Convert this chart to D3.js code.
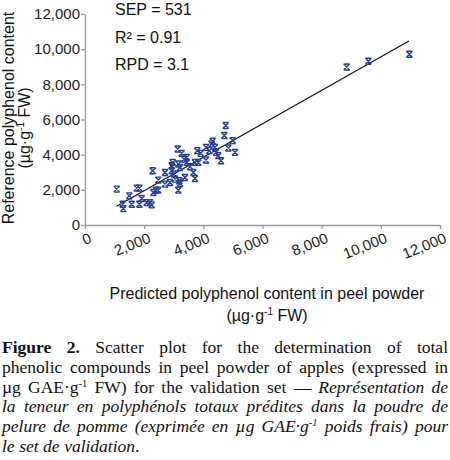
<!DOCTYPE html>
<html>
<head>
<meta charset="utf-8">
<script src="https://cdn.jsdelivr.net/npm/d3@7"></script>
<style>
  body { margin: 0; background: #fff; }
  svg { display: block; }
</style>
</head>
<body>
<div id="chart"></div>
<script>
// predicted (x) vs reference (y) polyphenol content, µg/g FW
var predicted = [1072, 1274, 1295, 1497, 1579, 1748, 1836, 1836, 1917, 2086,
  2197, 2255, 2288, 2309, 2400, 2478, 2478, 2704, 2704, 2873,
  2931, 2965, 2931, 3009, 3042, 3134, 3154, 3188, 3211, 3154,
  3269, 3211, 3347, 3380, 3438, 3438, 3549, 3661, 3718, 3718,
  3830, 3796, 3911, 4090, 4090, 4202, 4283, 4317, 4394, 4428,
  4506, 4597, 4709, 4756, 4844, 4993, 5071, 8846, 9578, 10964]
var reference = [2040, 1183, 931, 1657, 1183, 2097, 2097, 1183, 1503, 1274,
  1274, 1143, 3086, 1846, 1983, 1983, 2554, 2326, 2989, 2417,
  3086, 3560, 3371, 2897, 2611, 4326, 3469, 2514, 2360, 1983,
  4074, 3274, 3754, 2703, 3846, 3560, 3314, 2989, 2646, 3560,
  3560, 4229, 4074, 3697, 4417, 4229, 4611, 4760, 4417, 4131,
  3943, 3657, 5086, 5657, 4383, 4800, 4131, 8989, 9314, 9714]
// fitted line end points
var fitX = [1070, 10950]
var fitY = [1070, 10470]
var tickValues = [0, 2000, 4000, 6000, 8000, 10000, 12000]
var stats = ["SEP = 531", "R² = 0.91", "RPD = 3.1"]

const width = 450, height = 460
const svg = d3.select("#chart").append("svg")
  .attr("width", width).attr("height", height)

const x = d3.scaleLinear().domain([0, 12000]).range([85, 440])
const y = d3.scaleLinear().domain([0, 12000]).range([225, 14])

const axisColor = "#9a9a9a"
const sans = "'Liberation Sans', Arial, sans-serif"

// x axis
const gx = svg.append("g")
  .attr("transform", `translate(0,${y(0)})`)
  .call(d3.axisBottom(x).tickValues(tickValues).tickFormat(d3.format(",")).tickSize(4).tickSizeOuter(0))
gx.selectAll("text")
  .attr("x", 0).attr("y", 0).attr("dy", 0)
  .attr("text-anchor", "end")
  .attr("transform", "translate(7,17) rotate(-22)")

// y axis
const gy = svg.append("g")
  .attr("transform", `translate(${x(0)},0)`)
  .call(d3.axisLeft(y).tickValues(tickValues).tickFormat(d3.format(",")).tickSize(4).tickPadding(1).tickSizeOuter(0))

svg.selectAll(".domain, .tick line").attr("stroke", axisColor).attr("stroke-width", 1.3)
svg.selectAll(".tick text").attr("font-family", sans).attr("font-size", 15).attr("fill", "#222")

// regression line
svg.append("line")
  .attr("x1", x(fitX[0])).attr("y1", y(fitY[0]))
  .attr("x2", x(fitX[1])).attr("y2", y(fitY[1]))
  .attr("stroke", "#111").attr("stroke-width", 1.2)

// markers
const m = 3
const markerPath = `M${-m},${-m}L${m},${-m}M${-m},${m}L${m},${m}M${-m},${-m}L${m},${m}M${m},${-m}L${-m},${m}`
svg.append("g").selectAll("path")
  .data(predicted.map((p, i) => [p, reference[i]]))
  .join("path")
    .attr("d", markerPath)
    .attr("transform", d => `translate(${x(d[0])},${y(d[1])})`)
    .attr("fill", "none")
    .attr("stroke", "#26409a")
    .attr("stroke-width", 1.4)

// stats text
svg.append("g").selectAll("text")
  .data(stats)
  .join("text")
    .attr("x", 115)
    .attr("y", (d, i) => 15 + i * 27.5)
    .attr("font-family", sans).attr("font-size", 16).attr("fill", "#111")
    .text(d => d)

// axis titles
function unitLabel(sel) {
  sel.append("tspan").text("(µg·g")
  sel.append("tspan").attr("font-size", 10).attr("dy", -6).text("-1")
  sel.append("tspan").attr("dy", 6).text(" FW)")
}
svg.append("text")
  .attr("x", 267).attr("y", 299)
  .attr("text-anchor", "middle")
  .attr("font-family", sans).attr("font-size", 16).attr("fill", "#111")
  .text("Predicted polyphenol content in peel powder")
svg.append("text")
  .attr("x", 267).attr("y", 321)
  .attr("text-anchor", "middle")
  .attr("font-family", sans).attr("font-size", 16).attr("fill", "#111")
  .call(unitLabel)

svg.append("text")
  .attr("transform", "translate(14,118) rotate(-90)")
  .attr("text-anchor", "middle")
  .attr("font-family", sans).attr("font-size", 16).attr("fill", "#111")
  .text("Reference polyphenol content")
svg.append("text")
  .attr("transform", "translate(30,128) rotate(-90)")
  .attr("text-anchor", "middle")
  .attr("font-family", sans).attr("font-size", 16).attr("fill", "#111")
  .call(unitLabel)

// caption, justified word by word
// run: [text, style]  b = bold, i = italic, s = superscript
var captionLines = [
  [[["Figure", "b"]], [["2.", "b"]], [["Scatter"]], [["plot"]], [["for"]], [["the"]], [["determination"]], [["of"]], [["total"]]],
  [[["phenolic"]], [["compounds"]], [["in"]], [["peel"]], [["powder"]], [["of"]], [["apples"]], [["(expressed"]], [["in"]]],
  [[["µg"]], [["GAE·g"], ["-1", "s"]], [["FW)"]], [["for"]], [["the"]], [["validation"]], [["set"]], [["—"]], [["Représentation", "i"]], [["de", "i"]]],
  [[["la", "i"]], [["teneur", "i"]], [["en", "i"]], [["polyphénols", "i"]], [["totaux", "i"]], [["prédites", "i"]], [["dans", "i"]], [["la", "i"]], [["poudre", "i"]], [["de", "i"]]],
  [[["pelure", "i"]], [["de", "i"]], [["pomme", "i"]], [["(exprimée", "i"]], [["en", "i"]], [["µg", "i"]], [["GAE·g", "i"], ["-1", "is"]], [["poids", "i"]], [["frais)", "i"]], [["pour", "i"]]],
  [[["le", "i"]], [["set", "i"]], [["de", "i"]], [["validation", "i"], [".", ""]]]
]

const capLeft = 2, capRight = 448, capTop = 353, capStep = 19.8
const cap = svg.append("g")
  .attr("font-family", "'Liberation Serif', 'Times New Roman', serif")
  .attr("font-size", 17.5).attr("fill", "#111")

captionLines.forEach(function(words, li) {
  const texts = words.map(function(runs) {
    const t = cap.append("text").attr("y", capTop + li * capStep)
    runs.forEach(function(r, ri) {
      const st = r[1] || ""
      const ts = t.append("tspan").text(r[0])
      if (st.includes("b")) ts.attr("font-weight", "bold")
      if (st.includes("i")) ts.attr("font-style", "italic")
      if (st.includes("s")) ts.attr("font-size", 10.5).attr("dy", -6)
      else if (ri > 0 && (runs[ri - 1][1] || "").includes("s")) ts.attr("dy", 6)
    })
    return t
  })
  const widths = texts.map(t => t.node().getComputedTextLength())
  const total = d3.sum(widths)
  const last = li === captionLines.length - 1
  const gap = last ? 4.5 : (capRight - capLeft - total) / (texts.length - 1)
  let pos = capLeft
  texts.forEach(function(t, i) {
    t.attr("x", pos)
    pos += widths[i] + gap
  })
})
</script>
</body>
</html>
